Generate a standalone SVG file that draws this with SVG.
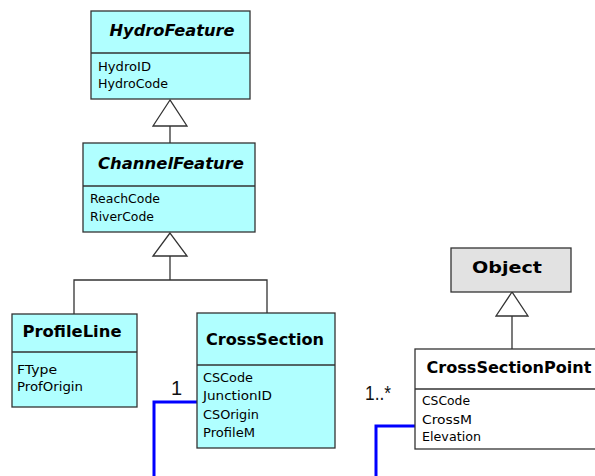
<svg xmlns="http://www.w3.org/2000/svg" width="595" height="476" viewBox="0 0 595 476">
  <defs>
    <style>
      .cls { fill: #b0ffff; stroke: #333; stroke-width: 1.3; }
      .obj { fill: #e2e2e2; stroke: #333; stroke-width: 1.3; }
      .plain { fill: #ffffff; stroke: #333; stroke-width: 1.3; }
      .div { stroke: #333; stroke-width: 1.3; fill: none; }
      .gen { stroke: #333; stroke-width: 1.3; fill: none; }
      .tri { fill: #ffffff; stroke: #333; stroke-width: 1.3; }
      .assoc { stroke: #0000ff; stroke-width: 3; fill: none; }
      .title { font-family: "DejaVu Sans", Verdana, sans-serif; font-size: 15px; font-weight: bold; fill: #000; text-anchor: middle; }
      .abstract { font-style: italic; }
      .attr { font-family: "DejaVu Sans", Verdana, sans-serif; font-size: 11.5px; fill: #000; }
      .mult { font-family: "Liberation Sans", Arial, sans-serif; font-size: 20px; fill: #111; }
    </style>
  </defs>

  <!-- generalization and association connectors -->
  <g id="connectors">
    <!-- ChannelFeature -> HydroFeature -->
    <line class="gen" x1="170" y1="126" x2="170" y2="143"/>
    <polygon class="tri" points="170,100 153,126 187,126"/>
    <!-- ProfileLine / CrossSection -> ChannelFeature -->
    <line class="gen" x1="170" y1="256" x2="170" y2="280"/>
    <polyline class="gen" points="74,314 74,280 267,280 267,313"/>
    <polygon class="tri" points="170,233 153,256 187,256"/>
    <!-- CrossSectionPoint -> Object -->
    <line class="gen" x1="512" y1="316" x2="512" y2="349"/>
    <polygon class="tri" points="512,292 496,316 528,316"/>
    <!-- associations -->
    <polyline class="assoc" points="197,402 154,402 154,476"/>
    <text class="mult" x="171" y="395">1</text>
    <polyline class="assoc" points="415,426 376,426 376,476"/>
    <text class="mult" x="365" y="400" textLength="26" lengthAdjust="spacingAndGlyphs">1..*</text>
  </g>

  <g id="HydroFeature">
    <rect class="cls" x="91" y="11" width="159" height="88"/>
    <line class="div" x1="91" y1="53" x2="250" y2="53"/>
    <text class="title abstract" x="172" y="36" textLength="125" lengthAdjust="spacingAndGlyphs">HydroFeature</text>
    <text class="attr" x="98" y="71" textLength="53" lengthAdjust="spacingAndGlyphs">HydroID</text>
    <text class="attr" x="98" y="88" textLength="70" lengthAdjust="spacingAndGlyphs">HydroCode</text>
  </g>

  <g id="ChannelFeature">
    <rect class="cls" x="83" y="143" width="172" height="89"/>
    <line class="div" x1="83" y1="186" x2="255" y2="186"/>
    <text class="title abstract" x="171" y="169" textLength="146" lengthAdjust="spacingAndGlyphs">ChannelFeature</text>
    <text class="attr" x="90" y="203" textLength="70" lengthAdjust="spacingAndGlyphs">ReachCode</text>
    <text class="attr" x="90" y="221" textLength="64" lengthAdjust="spacingAndGlyphs">RiverCode</text>
  </g>

  <g id="ProfileLine">
    <rect class="cls" x="12" y="314" width="125" height="93"/>
    <line class="div" x1="12" y1="352" x2="137" y2="352"/>
    <text class="title" x="72" y="337" textLength="99" lengthAdjust="spacingAndGlyphs">ProfileLine</text>
    <text class="attr" x="17" y="374" textLength="40" lengthAdjust="spacingAndGlyphs">FType</text>
    <text class="attr" x="17" y="391" textLength="66" lengthAdjust="spacingAndGlyphs">ProfOrigin</text>
  </g>

  <g id="CrossSection">
    <rect class="cls" x="197" y="313" width="138" height="135"/>
    <line class="div" x1="197" y1="365" x2="335" y2="365"/>
    <text class="title" x="265" y="345" textLength="118" lengthAdjust="spacingAndGlyphs">CrossSection</text>
    <text class="attr" x="203" y="382" textLength="50" lengthAdjust="spacingAndGlyphs">CSCode</text>
    <text class="attr" x="203" y="400" textLength="69" lengthAdjust="spacingAndGlyphs">JunctionID</text>
    <text class="attr" x="203" y="419" textLength="56" lengthAdjust="spacingAndGlyphs">CSOrigin</text>
    <text class="attr" x="203" y="437" textLength="52" lengthAdjust="spacingAndGlyphs">ProfileM</text>
  </g>

  <g id="Object">
    <rect class="obj" x="451" y="248" width="120" height="44"/>
    <text class="title" x="507" y="273" textLength="70" lengthAdjust="spacingAndGlyphs">Object</text>
  </g>

  <g id="CrossSectionPoint">
    <rect class="plain" x="415" y="349" width="190" height="100"/>
    <line class="div" x1="415" y1="389" x2="605" y2="389"/>
    <text class="title" x="509" y="373" textLength="165" lengthAdjust="spacingAndGlyphs">CrossSectionPoint</text>
    <text class="attr" x="422" y="405" textLength="48" lengthAdjust="spacingAndGlyphs">CSCode</text>
    <text class="attr" x="422" y="424" textLength="50" lengthAdjust="spacingAndGlyphs">CrossM</text>
    <text class="attr" x="422" y="441" textLength="59" lengthAdjust="spacingAndGlyphs">Elevation</text>
  </g>
</svg>
